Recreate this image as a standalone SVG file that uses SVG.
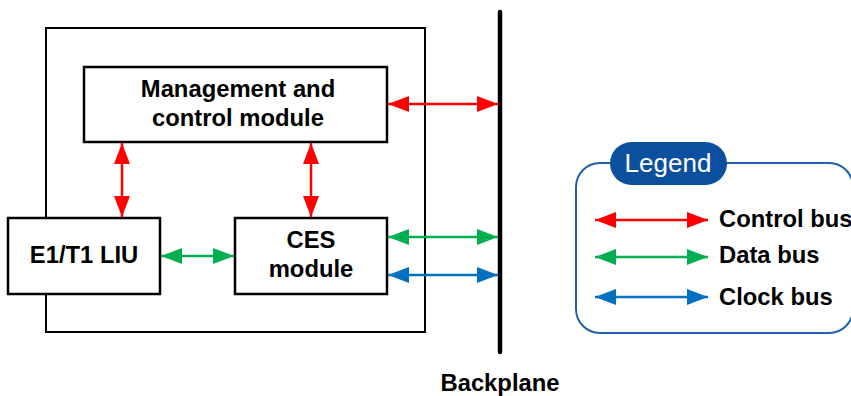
<svg xmlns="http://www.w3.org/2000/svg" width="851" height="396" viewBox="0 0 851 396">
<style>
.box{fill:#fff;stroke:#000;stroke-width:2.5}
.t{font-family:"Liberation Sans",Arial,sans-serif;font-weight:bold;font-size:23.8px;fill:#000}
.r{stroke:#FF0000;stroke-width:2.5;fill:none;marker-start:url(#hr);marker-end:url(#hr)}
.g{stroke:#00B050;stroke-width:2.5;fill:none;marker-start:url(#hg);marker-end:url(#hg)}
.b{stroke:#0070C0;stroke-width:2.5;fill:none;marker-start:url(#hb);marker-end:url(#hb)}
</style>
<defs>
<marker id="hr" markerUnits="userSpaceOnUse" markerWidth="22" markerHeight="16" refX="21" refY="8" orient="auto-start-reverse" viewBox="0 0 22 16"><path d="M0,0 L21,8 L0,16 z" fill="#FF0000"/></marker>
<marker id="hg" markerUnits="userSpaceOnUse" markerWidth="22" markerHeight="16" refX="21" refY="8" orient="auto-start-reverse" viewBox="0 0 22 16"><path d="M0,0 L21,8 L0,16 z" fill="#00B050"/></marker>
<marker id="hb" markerUnits="userSpaceOnUse" markerWidth="22" markerHeight="16" refX="21" refY="8" orient="auto-start-reverse" viewBox="0 0 22 16"><path d="M0,0 L21,8 L0,16 z" fill="#0070C0"/></marker>
</defs>
<rect width="851" height="396" fill="#fff"/>
<g id="card"><rect x="46" y="28" width="379" height="304" fill="none" stroke="#000" stroke-width="2"/></g>
<g id="backplane">
<line x1="500" y1="12" x2="500" y2="352" stroke="#000" stroke-width="4.5" stroke-linecap="round"/>
<text class="t" x="500" y="391" text-anchor="middle">Backplane</text>
</g>
<g id="mgmt">
<rect class="box" x="84" y="67" width="303" height="75"/>
<text class="t" x="238" y="97" text-anchor="middle">Management and</text>
<text class="t" x="238" y="126" text-anchor="middle">control module</text>
</g>
<g id="liu">
<rect class="box" x="8" y="218" width="152" height="76"/>
<text class="t" x="84" y="263" text-anchor="middle">E1/T1 LIU</text>
</g>
<g id="ces">
<rect class="box" x="235" y="218" width="152" height="76"/>
<text class="t" x="311" y="248" text-anchor="middle">CES</text>
<text class="t" x="311" y="277" text-anchor="middle">module</text>
</g>
<g id="connectors">
<line class="r" x1="122" y1="143" x2="122" y2="217"/>
<line class="r" x1="311" y1="143" x2="311" y2="217"/>
<line class="r" x1="388" y1="104" x2="498" y2="104"/>
<line class="g" x1="161" y1="256" x2="234" y2="256"/>
<line class="g" x1="388" y1="237" x2="498" y2="237"/>
<line class="b" x1="388" y1="275" x2="498" y2="275"/>
</g>
<g id="legend">
<rect x="576" y="163" width="277" height="170" rx="24" fill="#fff" stroke="#1F5FAD" stroke-width="2"/>
<rect x="610" y="142" width="117" height="43" rx="21.5" fill="#0B4F9F"/>
<text x="668" y="172" text-anchor="middle" font-family="'Liberation Sans',Arial,sans-serif" font-size="26" fill="#fff">Legend</text>
<line class="r" x1="595" y1="220" x2="708" y2="220"/>
<line class="g" x1="595" y1="257" x2="708" y2="257"/>
<line class="b" x1="595" y1="297" x2="708" y2="297"/>
<text class="t" x="719" y="227">Control bus</text>
<text class="t" x="719" y="263">Data bus</text>
<text class="t" x="719" y="305">Clock bus</text>
</g>
</svg>
